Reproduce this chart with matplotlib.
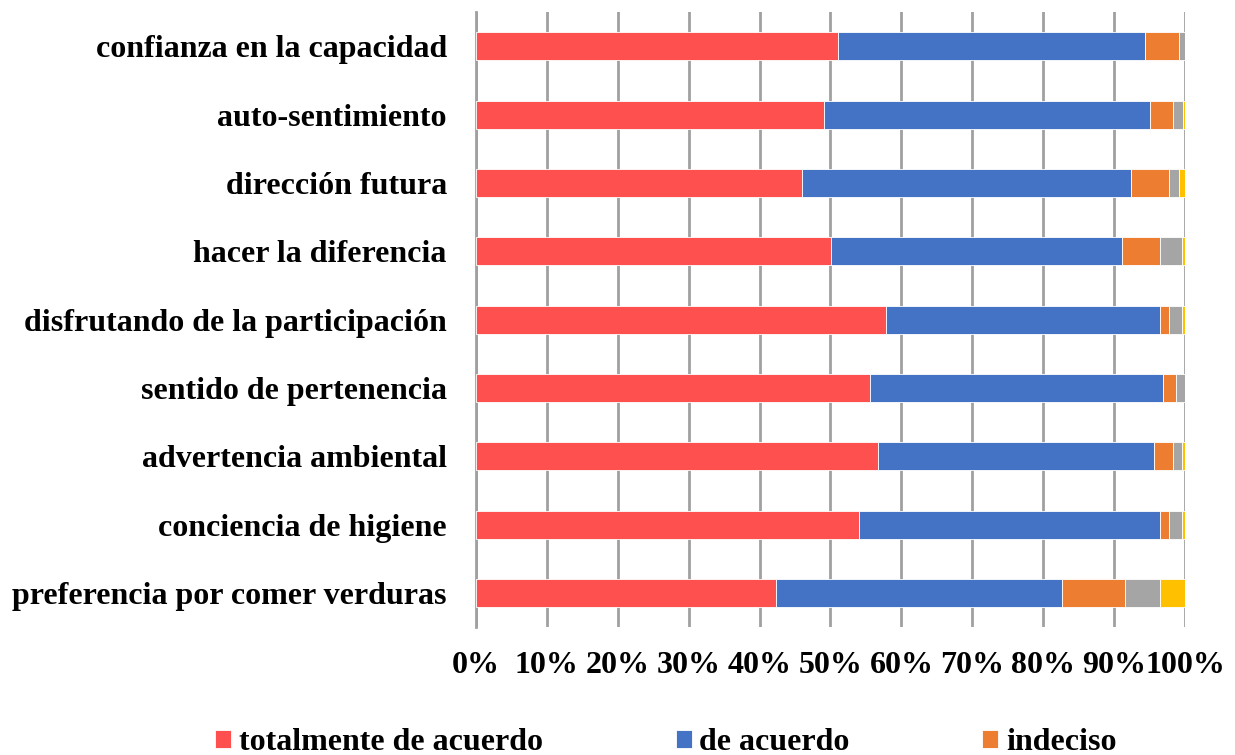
import matplotlib.pyplot as plt
import numpy as np

# categorias (de cima para baixo)
categories = [
    'confianza en la capacidad',
    'auto-sentimiento',
    'dirección futura',
    'hacer la diferencia',
    'disfrutando de la participación',
    'sentido de pertenencia',
    'advertencia ambiental',
    'conciencia de higiene',
    'preferencia por comer verduras',
]

# percentagens
totalmente = [51.0, 49.1, 46.0, 50.1, 57.8, 55.6, 56.7, 54.0, 42.3]
de_acuerdo = [43.3, 46.0, 46.4, 41.0, 38.7, 41.3, 38.9, 42.5, 40.3]
indeciso = [4.9, 3.2, 5.4, 5.4, 1.3, 1.8, 2.7, 1.3, 9.0]
gris = [0.8, 1.4, 1.4, 3.1, 1.8, 1.3, 1.3, 1.8, 4.9]
amarillo = [0.0, 0.3, 0.8, 0.4, 0.4, 0.0, 0.4, 0.4, 3.5]

legend_labels = ['totalmente de acuerdo', 'de acuerdo', 'indeciso']
x_ticks = [0, 10, 20, 30, 40, 50, 60, 70, 80, 90, 100]

COLORS = ['#FF5050', '#4472C4', '#ED7D31', '#A5A5A5', '#FFC000']
GRID = '#A0A0A0'
FS = 23

plt.rcParams['font.family'] = ['Liberation Serif', 'DejaVu Serif']
plt.rcParams['font.weight'] = 'bold'

fig = plt.figure(figsize=(12.35, 7.55), dpi=100)
ax = fig.add_axes([0.3854, 0.169, 0.5741, 0.815])

series = [totalmente, de_acuerdo, indeciso, gris, amarillo]
y = np.arange(len(categories))
left = np.zeros(len(categories))
bars = []
for vals, col in zip(series, COLORS):
    vals = np.array(vals)
    b = ax.barh(y, vals, left=left, height=0.41, color=col,
                edgecolor='white', linewidth=0.6, zorder=3)
    bars.append(b)
    left += vals

ax.set_ylim(len(categories) - 0.5, -0.5)
ax.set_xlim(0, 100)
ax.set_yticks(y)
ax.set_yticklabels(categories, fontsize=FS, fontweight='bold')
ax.set_xticks(x_ticks)
ax.set_xticklabels([f'{t}%' for t in x_ticks], fontsize=FS, fontweight='bold')
ax.tick_params(axis='y', length=0, pad=21)
ax.tick_params(axis='x', length=0, pad=17)

ax.grid(True, axis='x', color=GRID, linewidth=2, zorder=0)
ax.set_axisbelow(True)
for s in ['top', 'right', 'bottom']:
    ax.spines[s].set_visible(False)
ax.spines['left'].set_color(GRID)
ax.spines['left'].set_linewidth(2)

# legenda (só as 3 primeiras entradas aparecem no original)
leg = fig.legend([b[0] for b in bars[:3]], legend_labels, loc='lower left',
                 bbox_to_anchor=(215 / 1235, -0.003), ncol=3, frameon=False,
                 fontsize=FS, handlelength=0.5, handleheight=0.47,
                 handletextpad=0.25, columnspacing=4.15, borderpad=0,
                 borderaxespad=0)
for t in leg.get_texts():
    t.set_fontweight('bold')

fig.savefig('out.png', dpi=100, facecolor='white')
